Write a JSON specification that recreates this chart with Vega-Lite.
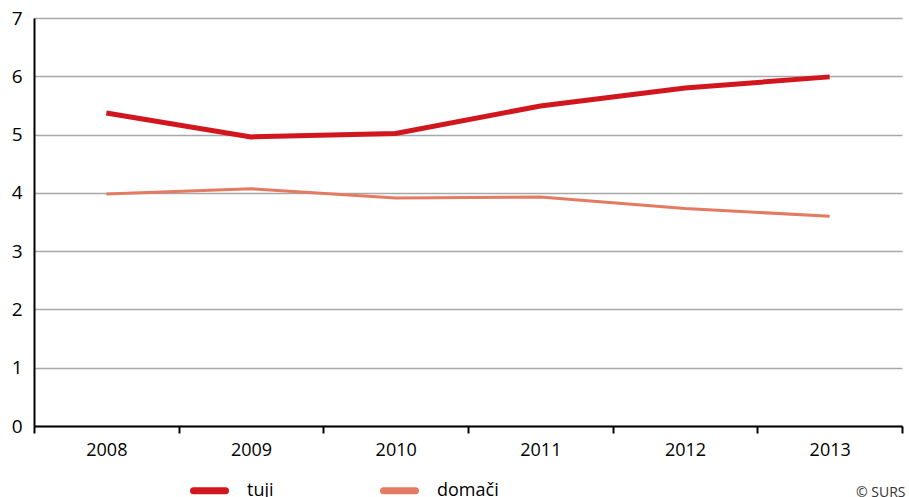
{
  "$schema": "https://vega.github.io/schema/vega-lite/v6.json",
  "autosize": "none",
  "width": 868,
  "height": 408,
  "padding": {"left": 34, "top": 18, "right": 7, "bottom": 71},
  "background": "white",
  "config": {
    "font": "Open Sans",
    "view": {"stroke": null}
  },
  "data": {
    "values": [
      {"year": "2008", "series": "tuji", "value": 5.37},
      {"year": "2009", "series": "tuji", "value": 4.96},
      {"year": "2010", "series": "tuji", "value": 5.02},
      {"year": "2011", "series": "tuji", "value": 5.49},
      {"year": "2012", "series": "tuji", "value": 5.80},
      {"year": "2013", "series": "tuji", "value": 5.99},
      {"year": "2008", "series": "domači", "value": 3.98},
      {"year": "2009", "series": "domači", "value": 4.07},
      {"year": "2010", "series": "domači", "value": 3.91},
      {"year": "2011", "series": "domači", "value": 3.93},
      {"year": "2012", "series": "domači", "value": 3.73},
      {"year": "2013", "series": "domači", "value": 3.60}
    ]
  },
  "encoding": {
    "x": {
      "field": "year",
      "type": "ordinal",
      "scale": {"type": "band", "paddingInner": 0, "paddingOuter": 0},
      "axis": {
        "title": "© SURS",
        "titleAnchor": "end",
        "titleAlign": "right",
        "titleBaseline": "alphabetic",
        "titleX": 871,
        "titleY": 70,
        "titleFontSize": 14,
        "titleFontWeight": "normal",
        "titleColor": "#333333",
        "labelAngle": 0,
        "tickBand": "extent",
        "domainColor": "#000000",
        "domainWidth": 2,
        "tickColor": "#000000",
        "tickWidth": 2,
        "tickSize": 7,
        "labelPadding": 8,
        "labelFontSize": 18,
        "labelColor": "#000000",
        "grid": false
      }
    },
    "y": {
      "field": "value",
      "type": "quantitative",
      "scale": {"domain": [0, 7], "nice": false},
      "axis": {
        "title": null,
        "values": [0, 1, 2, 3, 4, 5, 6, 7],
        "ticks": false,
        "labelPadding": 12,
        "labelFontSize": 19,
        "labelColor": "#000000",
        "domainColor": "#000000",
        "domainWidth": 2,
        "gridColor": "#A8A8A8",
        "gridWidth": 1.5,
        "gridOpacity": 1
      }
    },
    "color": {
      "field": "series",
      "type": "nominal",
      "scale": {"domain": ["tuji", "domači"], "range": ["#D2161E", "#E57A62"]},
      "legend": {
        "title": null,
        "orient": "none",
        "legendX": 156,
        "legendY": 453,
        "direction": "horizontal",
        "columns": 2,
        "columnPadding": 95,
        "symbolType": "stroke",
        "symbolSize": 1024,
        "symbolStrokeWidth": 7,
        "symbolOffset": 0,
        "labelOffset": 18,
        "labelFontSize": 18,
        "labelColor": "#000000",
        "encode": {
          "symbols": {"update": {"strokeWidth": {"value": 7}, "strokeCap": {"value": "round"}}}
        }
      }
    }
  },
  "layer": [
    {
      "transform": [{"filter": "datum.series === 'domači'"}],
      "mark": {"type": "line", "strokeWidth": 3}
    },
    {
      "transform": [{"filter": "datum.series === 'tuji'"}],
      "mark": {"type": "line", "strokeWidth": 5}
    }
  ]
}
